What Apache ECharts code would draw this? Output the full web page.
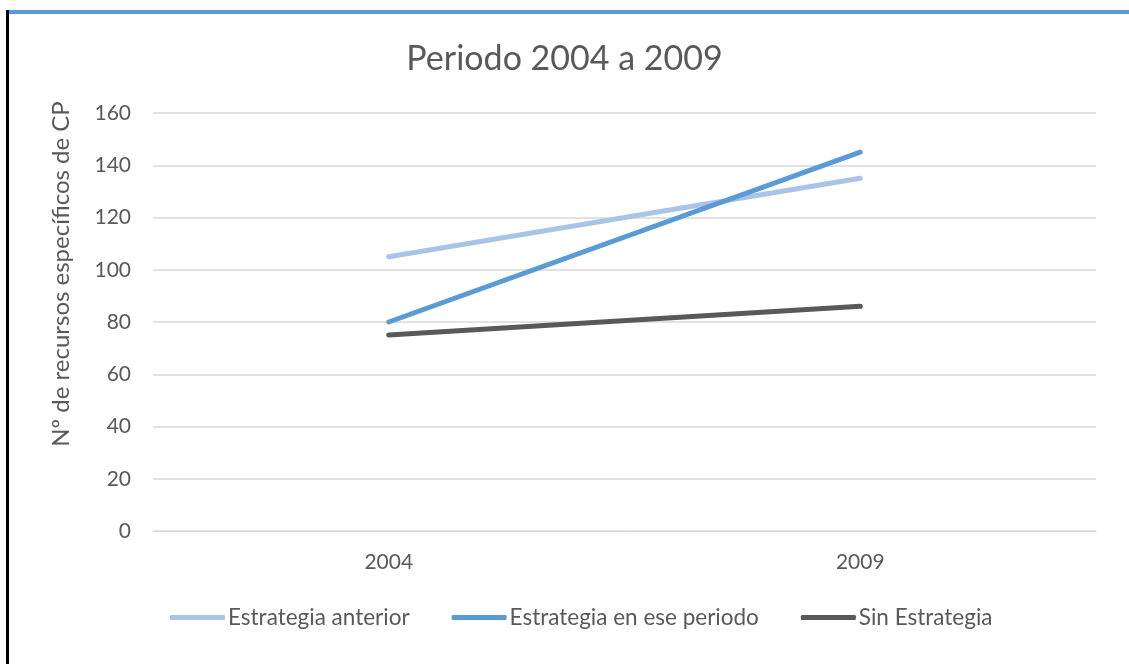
<!DOCTYPE html>
<html>
<head>
<meta charset="utf-8">
<script src="https://cdn.jsdelivr.net/npm/echarts@6/dist/echarts.min.js"></script>
<style>
  html, body { margin: 0; padding: 0; background: #fff; }
  #chart { width: 1129px; height: 664px; }
</style>
</head>
<body>
<div id="chart"></div>
<script>
// categorias y series
const categories = ['2004', '2009']
const estrategiaAnterior = [105, 135]
const estrategiaPeriodo = [80, 145]
const sinEstrategia = [75, 86]
const seriesNames = ['Estrategia anterior', 'Estrategia en ese periodo', 'Sin Estrategia']

const textColor = '#595959'
const font = 'Lato'

const myChart = echarts.init(document.getElementById('chart'))
myChart.setOption({
  color: ['#A9C4E8', '#5B9BD5', '#595959'],
  title: {
    text: 'Periodo 2004 a 2009',
    left: 'center',
    top: 37,
    textStyle: { color: textColor, fontSize: 34, fontWeight: 'normal', fontFamily: font }
  },
  graphic: [
    { type: 'rect', shape: { x: 6, y: 10, width: 1123, height: 4 }, style: { fill: '#5B9BD5' } },
    { type: 'rect', shape: { x: 6, y: 10, width: 3, height: 654 }, style: { fill: '#000' } }
  ],
  grid: { left: 153, right: 33, top: 113, bottom: 133, containLabel: false },
  legend: {
    data: seriesNames,
    left: 165,
    top: 601,
    icon: 'roundRect',
    itemWidth: 55,
    itemHeight: 5,
    itemGap: 42,
    textStyle: { color: textColor, fontSize: 22.5, fontFamily: font, padding: [0, 0, 0, -2] }
  },
  xAxis: {
    type: 'category',
    data: categories,
    boundaryGap: true,
    axisTick: { show: false },
    axisLine: { lineStyle: { color: '#D9D9D9' } },
    axisLabel: { color: textColor, fontSize: 21, fontFamily: font, margin: 21 }
  },
  yAxis: {
    type: 'value',
    min: 0,
    max: 160,
    interval: 20,
    name: 'Nº de recursos específicos de CP',
    nameLocation: 'center',
    nameGap: 80,
    // desplaza el titulo hacia arriba como en el original
    nameTextStyle: { color: textColor, fontSize: 24, fontFamily: font, padding: [0, 0, 0, 96] },
    axisLine: { show: false },
    axisTick: { show: false },
    splitLine: { lineStyle: { color: '#D9D9D9', width: 1.5 } },
    axisLabel: { color: textColor, fontSize: 21, fontFamily: font, margin: 22 }
  },
  series: [
    { name: seriesNames[0], type: 'line', data: estrategiaAnterior, showSymbol: false, lineStyle: { width: 5, cap: 'round' } },
    { name: seriesNames[1], type: 'line', data: estrategiaPeriodo, showSymbol: false, lineStyle: { width: 5, cap: 'round' } },
    { name: seriesNames[2], type: 'line', data: sinEstrategia, showSymbol: false, lineStyle: { width: 5, cap: 'round' } }
  ]
})
window.addEventListener('resize', function() {
  myChart.resize()
})
</script>
</body>
</html>
